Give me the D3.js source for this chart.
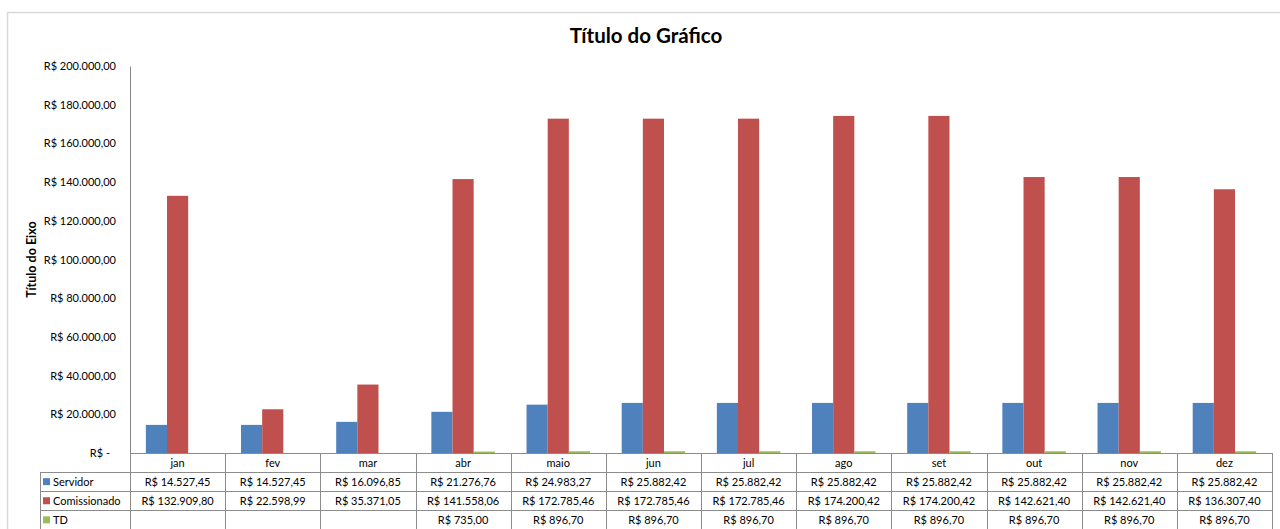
<!DOCTYPE html>
<html>
<head>
<meta charset="utf-8">
<script src="https://cdn.jsdelivr.net/npm/d3@7"></script>
<style>
  body { margin: 0; background: #fff; }
  text { font-family: Lato, "Open Sans", sans-serif; fill: #000; }
</style>
</head>
<body>
<div class="layout"></div>
<script>
var months = ["jan", "fev", "mar", "abr", "maio", "jun", "jul", "ago", "set", "out", "nov", "dez"];
var seriesNames = ["Servidor", "Comissionado", "TD"];
var servidor = [14527.45, 14527.45, 16096.85, 21276.76, 24983.27, 25882.42, 25882.42, 25882.42, 25882.42, 25882.42, 25882.42, 25882.42];
var comissionado = [132909.80, 22598.99, 35371.05, 141558.06, 172785.46, 172785.46, 172785.46, 174200.42, 174200.42, 142621.40, 142621.40, 136307.40];
var td = [null, null, null, 735.00, 896.70, 896.70, 896.70, 896.70, 896.70, 896.70, 896.70, 896.70];
var yTicks = [0, 20000, 40000, 60000, 80000, 100000, 120000, 140000, 160000, 180000, 200000];
var colors = ["#4f81bd", "#c0504d", "#9bbb59"];

var W = 1280, H = 529;
var plotLeft = 130, plotRight = 1272, plotTop = 66, zeroY = 453, rowH = 19.1, legendX = 40;

var br = d3.formatLocale({ decimal: ",", thousands: ".", grouping: [3], currency: ["R$ ", ""] });
var money = br.format("$,.2f");

var svg = d3.select(".layout").append("svg")
    .attr("width", W)
    .attr("height", H);

// chart frame
svg.append("rect")
    .attr("x", 7.5).attr("y", 12.5)
    .attr("width", 1400).attr("height", 700)
    .attr("fill", "none")
    .attr("stroke", "#d9d9d9")
    .attr("stroke-width", 1.5);

var x0 = d3.scaleBand().domain(months).range([plotLeft, plotRight]);
var x1 = d3.scaleBand().domain(seriesNames).range([0, x0.bandwidth()]).paddingOuter(0.75);
var y = d3.scaleLinear().domain([0, 200000]).range([zeroY, plotTop]);

var values = [servidor, comissionado, td];

// bars
seriesNames.forEach(function(s, si) {
    svg.append("g")
        .selectAll("rect")
        .data(months.map(function(m, i) { return { m: m, v: values[si][i] }; })
            .filter(function(d) { return d.v != null; }))
        .enter().append("rect")
        .attr("x", function(d) { return x0(d.m) + x1(s); })
        .attr("y", function(d) { return y(d.v); })
        .attr("width", x1.bandwidth())
        .attr("height", function(d) { return zeroY - y(d.v); })
        .attr("fill", colors[si]);
});

// y axis
var yAxis = d3.axisLeft(y)
    .tickValues(yTicks)
    .tickSize(0)
    .tickPadding(14)
    .tickFormat(function(d) { return d === 0 ? "R$ -" : money(d); });

var gy = svg.append("g")
    .attr("class", "y axis")
    .attr("transform", "translate(" + plotLeft + ",0)")
    .call(yAxis);
gy.select(".domain").attr("stroke", "#868686");
gy.selectAll("text")
    .style("font-size", "11px")
    .style("font-family", "Lato, sans-serif")
    .attr("fill", "#000")
    .attr("dx", function(d) { return d === 0 ? -6 : 0; });

// axis title
svg.append("text")
    .attr("transform", "translate(36," + ((plotTop + zeroY) / 2) + ") rotate(-90)")
    .attr("text-anchor", "middle")
    .style("font-size", "12.5px")
    .style("font-weight", "bold")
    .text("Título do Eixo");

// chart title
svg.append("text")
    .attr("x", 646).attr("y", 43)
    .attr("text-anchor", "middle")
    .style("font-size", "20.5px")
    .style("font-weight", "bold")
    .text("Título do Gráfico");

// data table
var grid = svg.append("g").attr("stroke", "#8c8c8c").attr("stroke-width", 1);
grid.append("line").attr("x1", plotLeft).attr("x2", plotRight).attr("y1", zeroY + 0.5).attr("y2", zeroY + 0.5);
[1, 2, 3].forEach(function(r) {
    grid.append("line")
        .attr("x1", legendX).attr("x2", plotRight)
        .attr("y1", Math.round(zeroY + r * rowH) + 0.5).attr("y2", Math.round(zeroY + r * rowH) + 0.5);
});
grid.append("line").attr("x1", legendX + 0.5).attr("x2", legendX + 0.5).attr("y1", zeroY + rowH).attr("y2", H + 10);
months.concat(["end"]).forEach(function(m, i) {
    var xx = Math.round(plotLeft + i * x0.bandwidth()) + 0.5;
    grid.append("line").attr("x1", xx).attr("x2", xx).attr("y1", zeroY).attr("y2", H + 10);
});

// header row (categories)
svg.append("g").selectAll("text")
    .data(months).enter().append("text")
    .attr("x", function(m) { return x0(m) + x0.bandwidth() / 2; })
    .attr("y", zeroY + rowH / 2 + 4)
    .attr("text-anchor", "middle")
    .style("font-size", "11px")
    .text(function(m) { return m; });

// series rows
seriesNames.forEach(function(s, si) {
    var rowY = zeroY + (si + 1) * rowH;
    svg.append("rect")
        .attr("x", 43).attr("y", rowY + rowH / 2 - 3.5)
        .attr("width", 7).attr("height", 7)
        .attr("fill", colors[si]);
    svg.append("text")
        .attr("x", 53).attr("y", rowY + rowH / 2 + 4)
        .style("font-size", "11px")
        .text(s);
    svg.append("g").selectAll("text")
        .data(months.map(function(m, i) { return { m: m, v: values[si][i] }; })
            .filter(function(d) { return d.v != null; }))
        .enter().append("text")
        .attr("x", function(d) { return x0(d.m) + x0.bandwidth() / 2; })
        .attr("y", rowY + rowH / 2 + 4)
        .attr("text-anchor", "middle")
        .style("font-size", "11px")
        .text(function(d) { return money(d.v); });
});
</script>
</body>
</html>
